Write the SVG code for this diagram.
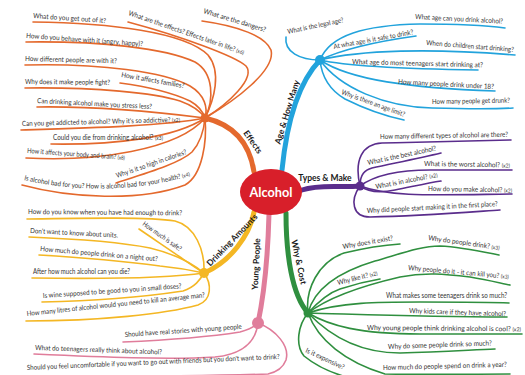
<svg xmlns="http://www.w3.org/2000/svg" width="525" height="375" viewBox="0 0 525 375">
<style>
.t{font-family:Lato,"Liberation Sans",sans-serif;font-size:7px;fill:#333}
.s{font-size:5.5px}
.lbl{font-family:Lato,"Liberation Sans",sans-serif;font-weight:700;font-size:8.5px;fill:#1a1a1a;text-anchor:middle}
.c{fill:none;stroke-width:1.6;stroke-linecap:round}
.m{fill:none;stroke-width:5;stroke-linecap:round}
.o{stroke:#e4692d}.b{stroke:#22a3dc}.p{stroke:#5a2d8c}.g{stroke:#2f8f3f}.k{stroke:#e07d9b}.y{stroke:#f4b724}
</style>
<defs>
<path id="tp-o13" d="M24,180 Q107,199 190,176"/>
</defs>
<rect width="525" height="375" fill="#fff"/>
<g id="connectors">
<path class="m o" d="M205,118 C235,125 250,145 254,172"/>
<path class="m b" stroke-width="6" d="M282,170 C286,130 296,85 320,60"/>
<path class="m p" d="M302,190 C320,184 340,188 360,186"/>
<path class="m g" d="M286,213 C286,255 292,295 308,313"/>
<path class="m k" d="M269,214 C268,250 265,290 258,323"/>
<path class="m y" d="M254,212 C250,235 230,262 204,273"/>
<path class="c o" d="M33,22 C110,23 185,32 208,55 C222,72 214,100 205,118"/>
<path class="c o" d="M128,22 C180,36 235,56 246,66 C256,78 228,104 205,118"/>
<path class="c o" d="M202,21 C238,26 265,36 271,50 C276,70 236,100 205,118"/>
<path class="c o" d="M26,42 C100,41 165,48 195,62 C214,73 214,100 205,118"/>
<path class="c o" d="M25,65 C100,63 165,72 190,86 C205,95 208,108 205,118"/>
<path class="c o" d="M120,83 C150,87 175,94 190,101 C199,106 203,112 205,118"/>
<path class="c o" d="M25,88 C95,87 155,93 180,101 C194,106 201,112 205,118"/>
<path class="c o" d="M37,107 C100,106 165,113 205,118"/>
<path class="c o" d="M21,130 C90,128 165,126 205,118"/>
<path class="c o" d="M51,144 C115,145 175,138 205,118"/>
<path class="c o" d="M26,158 C95,162 178,150 205,118"/>
<path class="c o" d="M116,183 C150,172 180,163 192,152 C200,143 204,130 205,118"/>
<path class="c o" d="M22,185 C70,198 140,202 185,185 C203,175 207,140 205,118"/>
<path class="c b" d="M286,37 C284,52 300,60 320,60"/>
<path class="c b" d="M320,60 C330,35 365,25 420,24 C460,24 490,26 505,28"/>
<path class="c b" d="M320,60 C345,48 380,41 416,36"/>
<path class="c b" d="M320,60 C360,50 430,48 515,55"/>
<path class="c b" d="M320,60 C350,67 410,69 478,70"/>
<path class="c b" d="M320,60 C350,80 410,88 495,91"/>
<path class="c b" d="M320,60 C322,80 333,92 345,99 C365,109 385,116 404,120"/>
<path class="c b" d="M320,60 C340,88 385,107 432,108 C470,109 495,109 513,108"/>
<path class="c p" d="M360,186 C354,160 362,144 382,143 C430,142 480,141 511,140"/>
<path class="c p" d="M360,186 C360,174 365,170 372,168 C395,163 420,158 441,153"/>
<path class="c p" d="M360,186 C375,175 400,170 430,170 C460,170 490,170 512,170"/>
<path class="c p" d="M360,186 C368,192 380,193 395,190 C415,186 428,183 441,181"/>
<path class="c p" d="M360,186 C390,197 430,195 512,194"/>
<path class="c p" d="M360,186 C350,200 352,217 370,217 C420,216 470,212 500,210"/>
<path class="c g" d="M308,313 C305,290 318,262 344,253 C365,248 385,245 400,244"/>
<path class="c g" d="M308,313 C315,285 345,270 375,261 C400,254 420,246 440,246 C462,247 484,252 499,255"/>
<path class="c g" d="M308,313 C318,302 328,293 340,289 C355,284 368,281 380,279"/>
<path class="c g" d="M308,313 C330,296 370,284 400,277 C425,272 445,274 470,277 C488,280 500,283 510,285"/>
<path class="c g" d="M308,313 C340,302 380,302 420,302 C460,302 490,302 509,303"/>
<path class="c g" d="M308,313 C350,314 420,317 507,317"/>
<path class="c g" d="M308,313 C330,326 360,334 420,334 C470,334 500,334 522,334"/>
<path class="c g" d="M308,313 C330,336 360,353 400,353 C440,352 470,350 495,349"/>
<path class="c g" d="M308,313 C298,325 295,345 304,356 C315,365 330,372 343,376"/>
<path class="c g" d="M308,313 C318,340 345,362 385,374 C430,375 480,374 510,374"/>
<path class="c y" d="M27,219 C90,218 150,217 175,221 C195,226 205,250 204,273"/>
<path class="c y" d="M139,229 C155,240 170,250 180,257 C190,264 197,269 204,273"/>
<path class="c y" d="M29,237 C80,239 120,242 150,248 C175,254 192,263 204,273"/>
<path class="c y" d="M39,255 C90,258 130,262 160,266 C180,268 195,271 204,273"/>
<path class="c y" d="M32,278 C100,279 170,278 204,273"/>
<path class="c y" d="M42,302 C100,301 150,296 183,291 C195,287 200,280 204,273"/>
<path class="c y" d="M26,321 C100,321 165,314 198,305 C212,300 212,284 204,273"/>
<path class="c k" d="M123,342 C170,340 215,336 240,332 C248,330 254,327 258,323"/>
<path class="c k" d="M34,354 C100,357 170,360 215,357 C245,354 256,340 258,323"/>
<path class="c k" d="M258,323 C276,330 290,346 286,360 C283,368 277,372 268,374 C190,377 100,376 25,376"/>
<circle cx="205" cy="118" r="4.5" fill="#e4692d"/>
<circle cx="320" cy="60" r="5" fill="#22a3dc"/>
<circle cx="360" cy="186" r="4.5" fill="#5a2d8c"/>
<circle cx="308" cy="313" r="4.5" fill="#2f8f3f"/>
<circle cx="258" cy="323" r="6" fill="#e07d9b"/>
<circle cx="204" cy="273" r="5" fill="#f4b724"/>
</g>
<g id="n-alcohol">
<ellipse cx="271" cy="192" rx="31" ry="23" fill="#d81f2a"/>
<text x="271" y="197" text-anchor="middle" font-family="Lato,'Liberation Sans',sans-serif" font-weight="700" font-size="13" fill="#fff" textLength="43" lengthAdjust="spacingAndGlyphs">Alcohol</text>
</g>
<g id="b-effects"><text class="lbl" x="253" y="145" transform="rotate(55 253 142)">Effects</text></g>
<g id="b-age"><text class="lbl" x="287" y="115" transform="rotate(-73 287 112)">Age &amp; How Many</text></g>
<g id="b-types"><text class="lbl" x="325" y="181">Types &amp; Make</text></g>
<g id="b-why"><text class="lbl" x="299" y="265" transform="rotate(78 299 262)">Why &amp; Cost</text></g>
<g id="b-young"><text class="lbl" x="256" y="267" transform="rotate(-87 256 264)">Young People</text></g>
<g id="b-drinking"><text class="lbl" x="232" y="243" transform="rotate(-46 232 240)">Drinking Amounts</text></g>
<g id="n-o1"><text class="t" x="33" y="18" transform="rotate(4 33 18)" textLength="73" lengthAdjust="spacingAndGlyphs">What do you get out of it?</text></g>
<g id="n-o2"><text class="t" x="128" y="15" transform="rotate(19 128 15)" textLength="122" lengthAdjust="spacingAndGlyphs">What are the effects? Effects later in life? <tspan class="s">(x6)</tspan></text></g>
<g id="n-o3"><text class="t" x="203" y="13" transform="rotate(17 203 13)" textLength="65" lengthAdjust="spacingAndGlyphs">What are the dangers?</text></g>
<g id="n-o4"><text class="t" x="26" y="38" transform="rotate(4 26 38)" textLength="117" lengthAdjust="spacingAndGlyphs">How do you behave with it (angry, happy)?</text></g>
<g id="n-o5"><text class="t" x="25" y="61" transform="rotate(1.5 25 61)" textLength="92" lengthAdjust="spacingAndGlyphs">How different people are with it?</text></g>
<g id="n-o6"><text class="t" x="121" y="77" transform="rotate(10 121 77)" textLength="64" lengthAdjust="spacingAndGlyphs">How it affects families?</text></g>
<g id="n-o7"><text class="t" x="25" y="84" transform="rotate(0.5 25 84)" textLength="85" lengthAdjust="spacingAndGlyphs">Why does it make people fight?</text></g>
<g id="n-o8"><text class="t" x="37" y="103" transform="rotate(3 37 103)" textLength="115" lengthAdjust="spacingAndGlyphs">Can drinking alcohol make you stress less?</text></g>
<g id="n-o9"><text class="t" x="22" y="126" transform="rotate(-1.5 22 126)" textLength="158" lengthAdjust="spacingAndGlyphs">Can you get addicted to alcohol? Why it's so addictive? <tspan class="s">(x2)</tspan></text></g>
<g id="n-o10"><text class="t" x="53" y="140" textLength="110" lengthAdjust="spacingAndGlyphs">Could you die from drinking alcohol? <tspan class="s">(x3)</tspan></text></g>
<g id="n-o11"><text class="t" x="27" y="153" transform="rotate(4 27 153)" textLength="98" lengthAdjust="spacingAndGlyphs">How it affects your body and brain? <tspan class="s">(x8)</tspan></text></g>
<g id="n-o12"><text class="t" x="117" y="178" transform="rotate(-19 117 178)" textLength="74" lengthAdjust="spacingAndGlyphs">Why is it so high in calories?</text></g>
<g id="n-o13"><text class="t"><textPath href="#tp-o13" textLength="168" lengthAdjust="spacingAndGlyphs">Is alcohol bad for you? How is alcohol bad for your health? <tspan class="s">(x4)</tspan></textPath></text></g>
<g id="n-b1"><text class="t" x="288" y="34" transform="rotate(-12 288 34)" textLength="57" lengthAdjust="spacingAndGlyphs">What is the legal age?</text></g>
<g id="n-b2"><text class="t" x="415" y="19" transform="rotate(3 415 19)" textLength="88" lengthAdjust="spacingAndGlyphs">What age can you drink alcohol?</text></g>
<g id="n-b3"><text class="t" x="334" y="49" transform="rotate(-10.5 334 49)" textLength="81" lengthAdjust="spacingAndGlyphs">At what age is it safe to drink?</text></g>
<g id="n-b4"><text class="t" x="426" y="45" transform="rotate(4.5 426 45)" textLength="88" lengthAdjust="spacingAndGlyphs">When do children start drinking?</text></g>
<g id="n-b5"><text class="t" x="352" y="64" transform="rotate(1.5 352 64)" textLength="131" lengthAdjust="spacingAndGlyphs">What age do most teenagers start drinking at?</text></g>
<g id="n-b6"><text class="t" x="398" y="84" transform="rotate(3 398 84)" textLength="96" lengthAdjust="spacingAndGlyphs">How many people drink under 18?</text></g>
<g id="n-b7"><text class="t" x="341" y="94" transform="rotate(20 341 94)" textLength="67" lengthAdjust="spacingAndGlyphs">Why is there an age limit?</text></g>
<g id="n-b8"><text class="t" x="432" y="104" transform="rotate(-1 432 104)" textLength="78" lengthAdjust="spacingAndGlyphs">How many people get drunk?</text></g>
<g id="n-p1"><text class="t" x="380" y="139" transform="rotate(-1 380 139)" textLength="128" lengthAdjust="spacingAndGlyphs">How many different types of alcohol are there?</text></g>
<g id="n-p2"><text class="t" x="368" y="165" transform="rotate(-12 368 165)" textLength="70" lengthAdjust="spacingAndGlyphs">What is the best alcohol?</text></g>
<g id="n-p3"><text class="t" x="424" y="166" transform="rotate(1 424 166)" textLength="86" lengthAdjust="spacingAndGlyphs">What is the worst alcohol? <tspan class="s">(x2)</tspan></text></g>
<g id="n-p4"><text class="t" x="376" y="189" transform="rotate(-11 376 189)" textLength="63" lengthAdjust="spacingAndGlyphs">What is in alcohol? <tspan class="s">(x2)</tspan></text></g>
<g id="n-p5"><text class="t" x="428" y="191" transform="rotate(1 428 191)" textLength="84" lengthAdjust="spacingAndGlyphs">How do you make alcohol? <tspan class="s">(x2)</tspan></text></g>
<g id="n-p6"><text class="t" x="367" y="213" transform="rotate(-3 367 213)" textLength="131" lengthAdjust="spacingAndGlyphs">Why did people start making it in the first place?</text></g>
<g id="n-g1"><text class="t" x="343" y="249" transform="rotate(-10 343 249)" textLength="51" lengthAdjust="spacingAndGlyphs">Why does it exist?</text></g>
<g id="n-g2"><text class="t" x="428" y="240" transform="rotate(8 428 240)" textLength="72" lengthAdjust="spacingAndGlyphs">Why do people drink? <tspan class="s">(x3)</tspan></text></g>
<g id="n-g3"><text class="t" x="338" y="285" transform="rotate(-14 338 285)" textLength="41" lengthAdjust="spacingAndGlyphs">Why like it? <tspan class="s">(x2)</tspan></text></g>
<g id="n-g4"><text class="t" x="408" y="270" transform="rotate(5 408 270)" textLength="101" lengthAdjust="spacingAndGlyphs">Why people do it - it can kill you? <tspan class="s">(x3)</tspan></text></g>
<g id="n-g5"><text class="t" x="386" y="298" textLength="121" lengthAdjust="spacingAndGlyphs">What makes some teenagers drink so much?</text></g>
<g id="n-g6"><text class="t" x="409" y="313" transform="rotate(2 409 313)" textLength="97" lengthAdjust="spacingAndGlyphs">Why kids care if they have alcohol?</text></g>
<g id="n-g7"><text class="t" x="367" y="330" transform="rotate(0.5 367 330)" textLength="154" lengthAdjust="spacingAndGlyphs">Why young people think drinking alcohol is cool? <tspan class="s">(x2)</tspan></text></g>
<g id="n-g8"><text class="t" x="388" y="349" transform="rotate(-2 388 349)" textLength="104" lengthAdjust="spacingAndGlyphs">Why do some people drink so much?</text></g>
<g id="n-g9"><text class="t" x="305" y="352" transform="rotate(25 305 352)" textLength="42" lengthAdjust="spacingAndGlyphs">Is it expensive?</text></g>
<g id="n-g10"><text class="t" x="383" y="370" transform="rotate(-1.5 383 370)" textLength="124" lengthAdjust="spacingAndGlyphs">How much do people spend on drink a year?</text></g>
<g id="n-y1"><text class="t" x="28" y="214" transform="rotate(0.5 28 214)" textLength="154" lengthAdjust="spacingAndGlyphs">How do you know when you have had enough to drink?</text></g>
<g id="n-y2"><text class="t" x="142" y="225" transform="rotate(35 142 225)" textLength="46" lengthAdjust="spacingAndGlyphs">How much is safe?</text></g>
<g id="n-y3"><text class="t" x="30" y="233" transform="rotate(3 30 233)" textLength="88" lengthAdjust="spacingAndGlyphs">Don't want to know about units.</text></g>
<g id="n-y4"><text class="t" x="40" y="251" transform="rotate(5 40 251)" textLength="118" lengthAdjust="spacingAndGlyphs">How much do people drink on a night out?</text></g>
<g id="n-y5"><text class="t" x="33" y="274" textLength="97" lengthAdjust="spacingAndGlyphs">After how much alcohol can you die?</text></g>
<g id="n-y6"><text class="t" x="43" y="298" transform="rotate(-4 43 298)" textLength="139" lengthAdjust="spacingAndGlyphs">Is wine supposed to be good to you in small doses?</text></g>
<g id="n-y7"><text class="t" x="27" y="316" transform="rotate(-6 27 316)" textLength="179" lengthAdjust="spacingAndGlyphs">How many litres of alcohol would you need to kill an average man?</text></g>
<g id="n-k1"><text class="t" x="125" y="337" transform="rotate(-4 125 337)" textLength="117" lengthAdjust="spacingAndGlyphs">Should have real stories with young people</text></g>
<g id="n-k2"><text class="t" x="35" y="350" transform="rotate(2 35 350)" textLength="127" lengthAdjust="spacingAndGlyphs">What do teenagers really think about alcohol?</text></g>
<g id="n-k3"><text class="t" x="27" y="370" transform="rotate(-2.5 27 370)" textLength="253" lengthAdjust="spacingAndGlyphs">Should you feel uncomfortable if you want to go out with friends but you don't want to drink?</text></g>
</svg>
